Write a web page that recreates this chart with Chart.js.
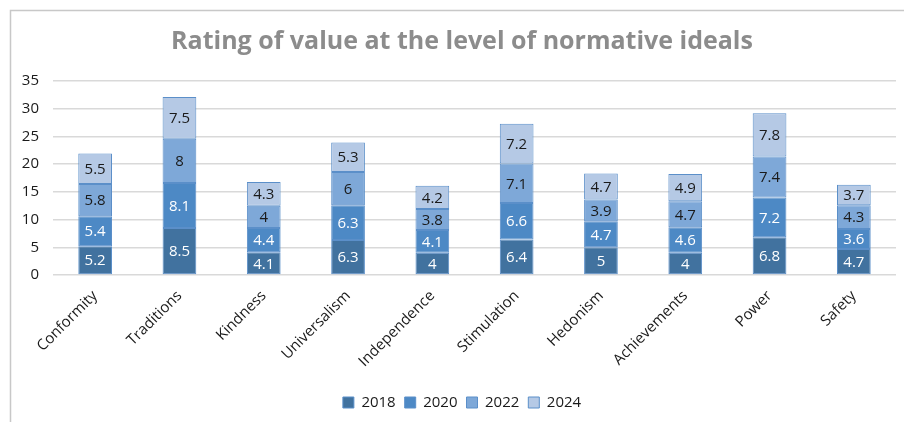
<!DOCTYPE html>
<html>
<head>
<meta charset="utf-8">
<script src="https://cdn.jsdelivr.net/npm/chart.js@4/dist/chart.umd.min.js"></script>
<style>
  html, body { margin: 0; padding: 0; background: #fff; }
  #wrap { width: 904px; height: 422px; position: relative; }
</style>
</head>
<body>
<div id="wrap"><canvas id="c" width="904" height="422"></canvas></div>
<script>
const categories = ["Conformity", "Traditions", "Kindness", "Universalism", "Independence", "Stimulation", "Hedonism", "Achievements", "Power", "Safety"];
const seriesNames = ["2018", "2020", "2022", "2024"];
const values2018 = [5.2, 8.5, 4.1, 6.3, 4, 6.4, 5, 4, 6.8, 4.7];
const values2020 = [5.4, 8.1, 4.4, 6.3, 4.1, 6.6, 4.7, 4.6, 7.2, 3.6];
const values2022 = [5.8, 8, 4, 6, 3.8, 7.1, 3.9, 4.7, 7.4, 4.3];
const values2024 = [5.5, 7.5, 4.3, 5.3, 4.2, 7.2, 4.7, 4.9, 7.8, 3.7];
const yTicks = [0, 5, 10, 15, 20, 25, 30, 35];
const titleText = "Rating of value at the level of normative ideals";

const colors = ['#41729f', '#4d89c5', '#7ea8d8', '#b5c9e5'];
const labelColors = ['#ffffff', '#ffffff', '#1a1a1a', '#1a1a1a'];
const FONT = "'Open Sans', sans-serif";

const allValues = [values2018, values2020, values2022, values2024];

const framePlugin = {
  id: 'frame',
  afterLayout(chart) {
    const y = chart.scales.y;
    y.left = 10;
    y.width = y.right - y.left;
  },
  beforeDraw(chart) {
    const ctx = chart.ctx;
    ctx.save();
    ctx.fillStyle = '#ffffff';
    ctx.fillRect(0, 0, chart.width, chart.height);
    ctx.strokeStyle = '#c8c8c8';
    ctx.lineWidth = 1.5;
    ctx.beginPath();
    ctx.moveTo(10.5, chart.height);
    ctx.lineTo(10.5, 10.5);
    ctx.lineTo(chart.width, 10.5);
    ctx.stroke();
    ctx.restore();
  }
};

const labelPlugin = {
  id: 'segLabels',
  afterDatasetsDraw(chart) {
    const ctx = chart.ctx;
    ctx.save();
    ctx.font = "15px " + FONT;
    ctx.textAlign = 'center';
    ctx.textBaseline = 'middle';
    chart.data.datasets.forEach((ds, di) => {
      const meta = chart.getDatasetMeta(di);
      meta.data.forEach((bar, i) => {
        const v = ds.data[i];
        const cy = (bar.y + bar.base) / 2;
        ctx.fillStyle = labelColors[di];
        ctx.fillText(String(v), bar.x, cy + 1);
      });
    });
    ctx.restore();
  }
};

new Chart(document.getElementById('c'), {
  type: 'bar',
  data: {
    labels: categories,
    datasets: seriesNames.map((name, i) => ({
      label: name,
      data: allValues[i],
      backgroundColor: colors[i],
      borderColor: '#5b8fc9',
      borderWidth: 1,
      borderSkipped: false,
      categoryPercentage: 1,
      barPercentage: 0.4
    }))
  },
  options: {
    responsive: false,
    animation: false,
    devicePixelRatio: 1,
    layout: { padding: { left: 28, right: 8, top: 0, bottom: 2 } },
    plugins: {
      title: {
        display: true,
        text: titleText,
        color: '#8c8c8c',
        font: { family: FONT, size: 25, weight: 'bold', lineHeight: 1.2 },
        padding: { top: 27, bottom: 24 }
      },
      legend: {
        display: true,
        position: 'bottom',
        labels: {
          color: '#1a1a1a',
          font: { family: FONT, size: 15 },
          boxWidth: 11,
          boxHeight: 11,
          padding: 9
        }
      },
      tooltip: { enabled: false }
    },
    scales: {
      x: {
        stacked: true,
        grid: { display: false },
        border: { display: false },
        ticks: {
          color: '#1a1a1a',
          font: { family: FONT, size: 15 },
          minRotation: 45,
          maxRotation: 45,
          padding: 4
        },
        afterFit(scale) { scale.height = 111; }
      },
      y: {
        stacked: true,
        min: 0,
        max: 35,
        grid: { color: '#d9d9d9', lineWidth: 1.5, drawTicks: false },
        border: { display: false },
        afterBuildTicks(scale) { scale.ticks = yTicks.map(v => ({ value: v })); },
        ticks: {
          color: '#1a1a1a',
          font: { family: FONT, size: 15 },
          padding: 14
        },
        afterFit(scale) { scale.width = 25; }
      }
    }
  },
  plugins: [framePlugin, labelPlugin]
});
</script>
</body>
</html>
